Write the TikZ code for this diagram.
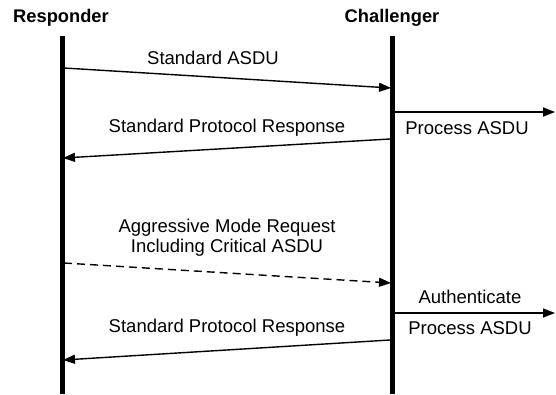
\documentclass[tikz,border=0pt]{standalone}
\usepackage{fontspec}
\setmainfont{Liberation Sans}
\usetikzlibrary{arrows.meta}
\begin{document}
\begin{tikzpicture}[x=1pt,y=-1pt,
  lifeline/.style={line width=5pt},
  msg/.style={line width=1.4pt,-{Triangle[length=12pt,width=9pt]}},
  title/.style={font=\fontsize{18.3}{21}\selectfont\bfseries,inner sep=0pt},
  lbl/.style={font=\fontsize{18.5}{20}\selectfont,inner sep=0pt,align=center}]
\useasboundingbox (0,0) rectangle (556,394);
% titles
\node[title] (resp) at (61,18) {Responder};
\node[title] (chal) at (392,18) {Challenger};
% lifelines
\coordinate (rtop) at (62,36);
\coordinate (rbot) at (62,394);
\coordinate (ctop) at (392,36);
\coordinate (cbot) at (392,394);
\draw[lifeline] (rtop) -- (rbot);
\draw[lifeline] (ctop) -- (cbot);
% message endpoints
\coordinate (a1s) at (64,68);  \coordinate (a1e) at (391,88);
\coordinate (p1s) at (394,112); \coordinate (p1e) at (555,112);
\coordinate (a2s) at (390,139); \coordinate (a2e) at (63,158);
\coordinate (a3s) at (64,263); \coordinate (a3e) at (391,283);
\coordinate (p2s) at (394,313); \coordinate (p2e) at (555,313);
\coordinate (a4s) at (390,340); \coordinate (a4e) at (63,360);
% messages
\draw[msg] (a1s) -- (a1e);
\draw[msg] (p1s) -- (p1e);
\draw[msg] (a2s) -- (a2e);
\draw[msg,dash pattern=on 8pt off 5pt] (a3s) -- (a3e);
\draw[msg] (p2s) -- (p2e);
\draw[msg] (a4s) -- (a4e);
% labels
\node[lbl] (l1) at (213,58) {Standard ASDU};
\node[lbl] (l2) at (467,128) {Process ASDU};
\node[lbl] (l3) at (227,128) {Standard Protocol Response};
\node[lbl] (l4) at (227,238) {Aggressive Mode Request\\Including Critical ASDU};
\node[lbl] (l5) at (470,297) {Authenticate};
\node[lbl] (l6) at (470,328) {Process ASDU};
\node[lbl] (l7) at (227,328) {Standard Protocol Response};
\end{tikzpicture}
\end{document}
